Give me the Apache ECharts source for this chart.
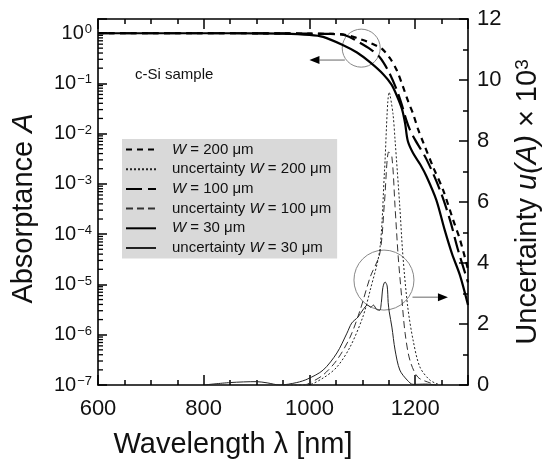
<!DOCTYPE html>
<html>
<head>
<meta charset="utf-8">
<script src="https://cdn.jsdelivr.net/npm/echarts@6/dist/echarts.min.js"></script>
<style>
  html, body { margin: 0; padding: 0; background: #fff; }
  #chart { width: 551px; height: 464px; }
</style>
</head>
<body>
<div id="chart"></div>
<script>
const FONT = '"Liberation Sans", Arial, Helvetica, sans-serif';

// Absorptance A (left, log axis) versus wavelength in nm
const wlW200  = [600, 800, 950, 1000, 1040, 1060, 1075, 1090, 1110, 1128, 1137, 1152, 1165, 1177, 1187, 1196, 1206, 1216, 1234, 1253, 1272, 1285, 1300];
const absW200 = [0.99, 0.99, 0.985, 0.975, 0.96, 0.94, 0.89, 0.79, 0.67, 0.55, 0.49, 0.32, 0.184, 0.0855, 0.043, 0.025, 0.0118, 0.0064, 0.00216, 7.5e-4, 1.9e-4, 7.7e-5, 2.0e-5];

const wlW100  = [600, 800, 950, 1000, 1040, 1058, 1075, 1090, 1115, 1133, 1150, 1165, 1175, 1183, 1190, 1200, 1222, 1247, 1266, 1281, 1300];
const absW100 = [0.99, 0.99, 0.985, 0.97, 0.96, 0.95, 0.84, 0.69, 0.48, 0.33, 0.17, 0.075, 0.037, 0.019, 0.012, 0.0075, 0.003, 7.5e-4, 1.9e-4, 4.9e-5, 1.1e-5];

const wlW30   = [600, 800, 900, 950, 1000, 1026, 1063, 1090, 1115, 1140, 1155, 1165, 1175, 1181, 1186, 1196, 1210, 1222, 1240, 1256, 1270, 1285, 1300];
const absW30  = [0.99, 0.99, 0.985, 0.975, 0.92, 0.84, 0.58, 0.41, 0.26, 0.15, 0.095, 0.058, 0.031, 0.016, 0.0072, 0.0041, 0.0024, 0.00137, 4.8e-4, 1.2e-4, 4.0e-5, 1.5e-5, 3.9e-6];

// Uncertainty u(A) x 10^3 (right, linear axis)
const wlU200 = [950, 995, 1026, 1052, 1077, 1101, 1115, 1133, 1142, 1151, 1158, 1162, 1171, 1177, 1186, 1196, 1209, 1228, 1247];
const uW200  = [0, 0, 0.23, 0.59, 1.25, 2.23, 3.11, 4.43, 7.0, 9.6, 8.9, 8.03, 5.84, 4.2, 2.56, 1.48, 0.59, 0.16, 0];

const wlU100 = [950, 990, 1001, 1026, 1052, 1077, 1096, 1115, 1133, 1142, 1150, 1156, 1162, 1168, 1175, 1181, 1190, 1205, 1228, 1241];
const uW100  = [0, 0, 0.07, 0.33, 0.82, 1.57, 2.46, 3.54, 4.3, 6.0, 7.64, 7.48, 5.84, 4.2, 2.79, 1.7, 0.82, 0.26, 0.07, 0];

const wlU30  = [800, 850, 900, 920, 944, 976, 997, 1026, 1052, 1071, 1080, 1092, 1101, 1110, 1116, 1121, 1127, 1133, 1136, 1139, 1143, 1147, 1149, 1151, 1156, 1162, 1171, 1185, 1196, 1220, 1240];
const uW30   = [0, 0.08, 0.11, 0.07, 0, 0.08, 0.2, 0.49, 1.05, 1.7, 2.03, 2.23, 2.46, 2.62, 2.55, 2.62, 2.48, 2.45, 2.7, 3.2, 3.38, 3.25, 2.7, 2.4, 1.9, 1.15, 0.49, 0.16, 0.02, 0.03, 0];

// Minor tick positions on the logarithmic axis (2..9 per decade)
const logMinor = [];
for (let e = -7; e < 0; e++) for (let m = 2; m <= 9; m++) logMinor.push(m * Math.pow(10, e));

const names = ['W = 200 μm', 'uncertainty W = 200 μm', 'W = 100 μm', 'uncertainty W = 100 μm', 'W = 30 μm', 'uncertainty W = 30 μm'];

const zip = (xs, ys) => xs.map((x, i) => [x, ys[i]]);

function lineSeries(name, xs, ys, yIdx, width, dash, color) {
  return {
    name, type: 'line', yAxisIndex: yIdx, data: zip(xs, ys),
    symbol: 'none', smooth: 0.3, animation: false, silent: true,
    lineStyle: { color, width, type: dash },
    itemStyle: { color: '#000' }
  };
}

function sup10(v) {
  const e = Math.log10(v);
  const r = Math.round(e);
  if (Math.abs(e - r) > 1e-6) return '';
  return '{b|10}{s|' + (r < 0 ? '\u2212' + (-r) : r) + '}';
}

const chart = echarts.init(document.getElementById('chart'), null, { renderer: 'canvas' });

const tickLabel = { fontFamily: FONT, fontSize: 22, color: '#111' };
const titleStyle = { fontFamily: FONT, fontSize: 29, color: '#111' };

const option = {
  animation: false,
  backgroundColor: '#fff',
  grid: { left: 98, right: 83, top: 19, bottom: 79, outerBoundsMode: 'none' },
  legend: {
    orient: 'vertical', left: 122, top: 139,
    padding: [3, 6, 3, 3], backgroundColor: '#d9d9d9',
    itemWidth: 30, itemHeight: 12, itemGap: 4.7,
    selectedMode: false, data: names,
    itemStyle: { opacity: 0 },
    formatter: n => '{g| }' + n.replace('W', '{i|W}'),
    textStyle: {
      fontFamily: FONT, fontSize: 15, color: '#111',
      rich: {
        g: { width: 11 },
        i: { fontFamily: FONT, fontSize: 15, fontStyle: 'italic', color: '#111' }
      }
    }
  },
  xAxis: [
    {
      type: 'value', position: 'bottom', min: 600, max: 1300, interval: 50,
      axisLine: { lineStyle: { color: '#000', width: 1.6 } },
      axisTick: { inside: true, length: 5, lineStyle: { color: '#000', width: 1.5 } },
      splitLine: { show: false },
      axisLabel: Object.assign({ margin: 13, formatter: v => (v % 200 === 0 && v < 1300) ? String(v) : '' }, tickLabel),
      name: 'Wavelength λ [nm]', nameLocation: 'middle', nameGap: 45,
      nameTextStyle: Object.assign({ padding: [0, 100, 0, 0] }, titleStyle)
    },
    {
      type: 'value', position: 'bottom', min: 600, max: 1300, interval: 200,
      axisLine: { show: false },
      axisTick: { inside: true, length: 10, lineStyle: { color: '#000', width: 1.5 } },
      splitLine: { show: false }, axisLabel: { show: false }
    },
    {
      type: 'value', position: 'top', min: 600, max: 1300, interval: 50,
      axisLine: { lineStyle: { color: '#000', width: 1.6 } },
      axisTick: { inside: true, length: 5, lineStyle: { color: '#000', width: 1.5 } },
      splitLine: { show: false }, axisLabel: { show: false }
    },
    {
      type: 'value', position: 'top', min: 600, max: 1300, interval: 200,
      axisLine: { show: false },
      axisTick: { inside: true, length: 10, lineStyle: { color: '#000', width: 1.5 } },
      splitLine: { show: false }, axisLabel: { show: false }
    }
  ],
  yAxis: [
    {
      type: 'log', logBase: 10, position: 'left', min: 1e-7, max: 1.9,
      axisLine: { lineStyle: { color: '#000', width: 1.6 } },
      axisTick: { inside: true, length: 9, lineStyle: { color: '#000', width: 1.5 } },
      splitLine: { show: false },
      axisLabel: {
        margin: 6, formatter: sup10,
        rich: {
          b: { fontFamily: FONT, fontSize: 20, color: '#111' },
          s: { fontFamily: FONT, fontSize: 13, color: '#111', verticalAlign: 'top', padding: [0, 0, 0, 1] }
        }
      },
      name: 'Absorptance {i|A}', nameLocation: 'middle', nameGap: 60, nameRotate: 90,
      nameTextStyle: Object.assign({
        padding: [0, 13, 0, 0],
        rich: { i: { fontFamily: FONT, fontSize: 29, fontStyle: 'italic', color: '#111' } }
      }, titleStyle)
    },
    {
      type: 'value', position: 'right', min: 0, max: 12, interval: 2,
      axisLine: { lineStyle: { color: '#000', width: 1.6 } },
      axisTick: { inside: true, length: 9, lineStyle: { color: '#000', width: 1.5 } },
      minorTick: { show: true, splitNumber: 2, length: 5, lineStyle: { color: '#000', width: 1.5 } },
      splitLine: { show: false },
      axisLabel: Object.assign({ margin: 9 }, tickLabel),
      name: 'Uncertainty {i|u(A)} × 10{s|3}', nameLocation: 'middle', nameGap: 45, nameRotate: 90,
      nameTextStyle: Object.assign({
        rich: {
          i: { fontFamily: FONT, fontSize: 29, fontStyle: 'italic', color: '#111' },
          s: { fontFamily: FONT, fontSize: 19, color: '#111', verticalAlign: 'top' }
        }
      }, titleStyle)
    }
  ],
  series: [
    lineSeries(names[0], wlW200, absW200, 0, 2.2, [6, 5], '#000'),
    lineSeries(names[1], wlU200, uW200, 1, 1, [2, 2], '#222'),
    lineSeries(names[2], wlW100, absW100, 0, 2.2, [16, 6], '#000'),
    lineSeries(names[3], wlU100, uW100, 1, 1, [7, 4], '#333'),
    lineSeries(names[4], wlW30, absW30, 0, 2.2, 'solid', '#000'),
    lineSeries(names[5], wlU30, uW30, 1, 1, 'solid', '#222'),
    {
      // minor ticks of the logarithmic axis, drawn inward from the left edge
      type: 'custom', yAxisIndex: 0, silent: true, animation: false,
      data: logMinor.map(v => [600, v]),
      renderItem: (params, api) => {
        const p = api.coord([api.value(0), api.value(1)]);
        return {
          type: 'line',
          shape: { x1: p[0], y1: p[1], x2: p[0] + 5, y2: p[1] },
          style: { stroke: '#000', lineWidth: 1.3 }
        };
      }
    }
  ]
};

chart.setOption(option);

// Annotations: circles around the curve groups with arrows to their axes
const toL = p => chart.convertToPixel({ xAxisIndex: 0, yAxisIndex: 0 }, p);
const toR = p => chart.convertToPixel({ xAxisIndex: 0, yAxisIndex: 1 }, p);

function arrow(from, to) {
  const dx = to[0] - from[0], dy = to[1] - from[1];
  const len = Math.hypot(dx, dy), ux = dx / len, uy = dy / len;
  const hl = 10, hw = 4;
  const bx = to[0] - ux * hl, by = to[1] - uy * hl;
  return [
    { type: 'line', shape: { x1: from[0], y1: from[1], x2: bx, y2: by }, style: { stroke: '#666', lineWidth: 1 }, silent: true },
    { type: 'polygon', shape: { points: [[to[0], to[1]], [bx - uy * hw, by + ux * hw], [bx + uy * hw, by - ux * hw]] }, style: { fill: '#000' }, silent: true }
  ];
}

const c1 = toL([1098, 0.5]);
const c2 = toR([1141, 3.44]);
const graphics = [
  { type: 'circle', shape: { cx: c1[0], cy: c1[1], r: 19 }, style: { fill: 'none', stroke: '#888', lineWidth: 1 }, silent: true },
  { type: 'circle', shape: { cx: c2[0], cy: c2[1], r: 30 }, style: { fill: 'none', stroke: '#888', lineWidth: 1 }, silent: true },
  ...arrow(toL([1067, 0.29]), toL([1000, 0.29])),
  ...arrow(toR([1195, 2.88]), toR([1262, 2.88])),
  { type: 'text', left: 135, top: 67, style: { text: 'c-Si sample', font: '15px ' + FONT, fill: '#111' }, silent: true }
];
chart.setOption({ graphic: graphics });
</script>
</body>
</html>
